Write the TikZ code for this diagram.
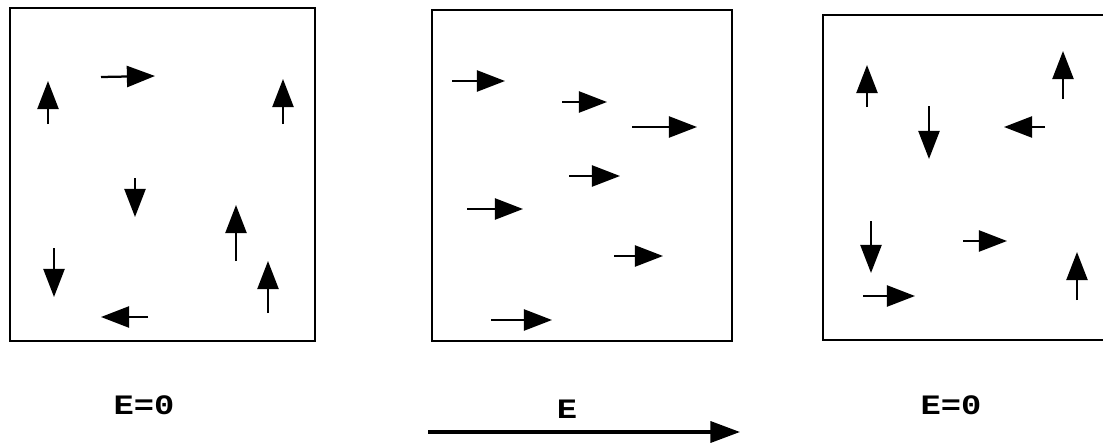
\documentclass[tikz,border=0pt]{standalone}
\usepackage{fontspec}
\usepackage{tikz}
\usetikzlibrary{arrows.meta}
\newfontfamily\labfont[FakeStretch=1.2]{Liberation Mono Bold}

\begin{document}
\begin{tikzpicture}[x=0.25mm, y=-0.25mm,
    cadre/.style={line width=1.9pt},
    dipole/.style={line width=1.6pt, -{Triangle[length=20pt, width=15pt]}},
    champ/.style={line width=2.2pt, -{Triangle[length=21pt, width=15pt]}},
    lab/.style={font=\labfont\fontsize{20}{24}\selectfont, inner sep=0pt}]
  \useasboundingbox (0,0) rectangle (1103,443);

  % SANS CHAMP (gauche)
  \draw[cadre] (10,8) rectangle (315,341);
  \foreach \xa/\ya/\xb/\yb in {48/124/48/81, 101/77/155/76, 283/124/283/79,
      135/178/135/217, 236/261/236/205, 54/248/54/297, 268/313/268/261,
      148/317/101/317}
    \draw[dipole] (\xa,\ya) -- (\xb,\yb);
  \node[lab] (e0a) at (144,405) {E=0};

  % AVEC CHAMP (milieu)
  \draw[cadre] (432,10) rectangle (732,341);
  \foreach \xa/\ya/\xb/\yb in {452/81/505/81, 562/102/607/102, 632/127/697/127,
      569/176/620/176, 467/209/523/209, 614/256/663/256, 491/320/552/320}
    \draw[dipole] (\xa,\ya) -- (\xb,\yb);
  \node[lab] (e) at (567,409) {E};
  \coordinate (ch0) at (428,432);
  \coordinate (ch1) at (740,432);
  \draw[champ] (ch0) -- (ch1);

  % CHAMP COUPE (droite)
  \begin{scope}
    \clip (0,0) rectangle (1103,443);
    \draw[cadre] (823,15) rectangle (1120,340);
  \end{scope}
  \foreach \xa/\ya/\xb/\yb in {867/107/867/65, 929/106/929/159, 1063/99/1063/51,
      1045/127/1004/127, 871/221/871/273, 963/241/1007/241, 1077/300/1077/252,
      863/296/915/296}
    \draw[dipole] (\xa,\ya) -- (\xb,\yb);
  \node[lab] (e0b) at (951,405) {E=0};
\end{tikzpicture}
\end{document}
